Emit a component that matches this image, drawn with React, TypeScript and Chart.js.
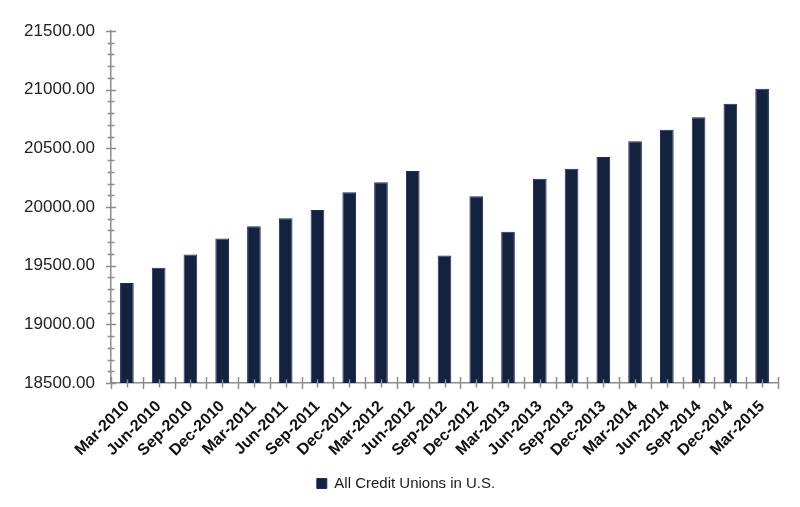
import React, { useEffect, useRef } from "react";
import { Chart, registerables } from "chart.js";

Chart.register(...registerables);

const categories = [
  "Mar-2010", "Jun-2010", "Sep-2010", "Dec-2010",
  "Mar-2011", "Jun-2011", "Sep-2011", "Dec-2011",
  "Mar-2012", "Jun-2012", "Sep-2012", "Dec-2012",
  "Mar-2013", "Jun-2013", "Sep-2013", "Dec-2013",
  "Mar-2014", "Jun-2014", "Sep-2014", "Dec-2014",
  "Mar-2015",
];

const seriesName = "All Credit Unions in U.S.";

const values = [
  19352, 19482, 19595, 19732,
  19835, 19905, 19975, 20125,
  20212, 20307, 19587, 20091,
  19790, 20240, 20326, 20426,
  20560, 20658, 20765, 20880,
  21008,
];

const yMin = 18500;
const yMax = 21500;
const yMajorStep = 500;
const yMinorStep = 100;

const tickPlugin = {
  id: "crossTicks",
  afterDraw(chart: any) {
    const ctx = chart.ctx;
    const xs = chart.scales.x;
    const ys = chart.scales.y;
    ctx.save();
    ctx.strokeStyle = "#8c8c8c";
    ctx.lineWidth = 1.5;
    const ax = ys.right;
    for (let v = yMin; v <= yMax; v += yMinorStep) {
      const y = Math.round(ys.getPixelForValue(v)) + 0.5;
      const major = v % yMajorStep === 0;
      const half = major ? 5 : 3.5;
      ctx.beginPath();
      ctx.moveTo(ax - half, y);
      ctx.lineTo(ax + half, y);
      ctx.stroke();
    }
    const ay = xs.top;
    const n = categories.length;
    const w = (xs.right - xs.left) / n;
    for (let i = 0; i <= n; i++) {
      const x = Math.round(xs.left + i * w) + 0.5;
      ctx.beginPath();
      ctx.moveTo(x, ay - 6);
      ctx.lineTo(x, ay + 6);
      ctx.stroke();
    }
    for (let i = 0; i < n; i++) {
      const x = Math.round(xs.getPixelForValue(i)) + 0.5;
      ctx.beginPath();
      ctx.moveTo(x, ay - 3.5);
      ctx.lineTo(x, ay + 4.5);
      ctx.stroke();
    }
    ctx.restore();
  },
};

export default function App() {
  const ref = useRef<HTMLCanvasElement | null>(null);

  useEffect(() => {
    if (!ref.current) return;
    const chart = new Chart(ref.current, {
      type: "bar",
      data: {
        labels: categories,
        datasets: [
          {
            label: seriesName,
            data: values,
            backgroundColor: "#13223f",
            borderColor: "#1c2a66",
            borderWidth: 1,
            barPercentage: 0.43,
            categoryPercentage: 1,
          },
        ],
      },
      options: {
        animation: false,
        responsive: false,
        maintainAspectRatio: false,
        layout: { padding: { top: 31, right: 0, left: 12, bottom: 6 } },
        plugins: {
          legend: {
            position: "bottom",
            labels: {
              boxWidth: 10,
              boxHeight: 10,
              padding: 8,
              color: "#1a1a1a",
              font: { family: "'Liberation Sans', Arial, sans-serif", size: 15 },
            },
          },
          tooltip: { enabled: false },
        },
        scales: {
          x: {
            grid: { display: false },
            border: { display: true, color: "#8c8c8c", width: 1.5 },
            ticks: {
              minRotation: 45,
              maxRotation: 45,
              padding: 6,
              color: "#111",
              font: { family: "'Liberation Sans', Arial, sans-serif", size: 16, weight: "bold" },
            },
            afterFit(scale: any) {
              scale.height = 85;
            },
          },
          y: {
            min: yMin,
            max: yMax,
            grid: { display: false },
            border: { display: true, color: "#8c8c8c", width: 1.5 },
            ticks: {
              stepSize: yMajorStep,
              padding: 8,
              color: "#222",
              font: { family: "'Liberation Sans', Arial, sans-serif", size: 17 },
              callback: (v: any) => Number(v).toFixed(2),
            },
            afterFit(scale: any) {
              scale.width = 99;
            },
          },
          yRight: {
            type: "linear",
            position: "right",
            display: true,
            grid: { display: false },
            border: { display: false },
            ticks: { display: false },
            afterFit(scale: any) {
              scale.width = 22;
            },
          },
        },
      },
      plugins: [tickPlugin],
    });
    return () => chart.destroy();
  }, []);

  return (
    <div style={{ position: "absolute", left: 0, top: 0, width: 800, height: 507, background: "#fff" }}>
      <canvas ref={ref} width={800} height={507} />
    </div>
  );
}
